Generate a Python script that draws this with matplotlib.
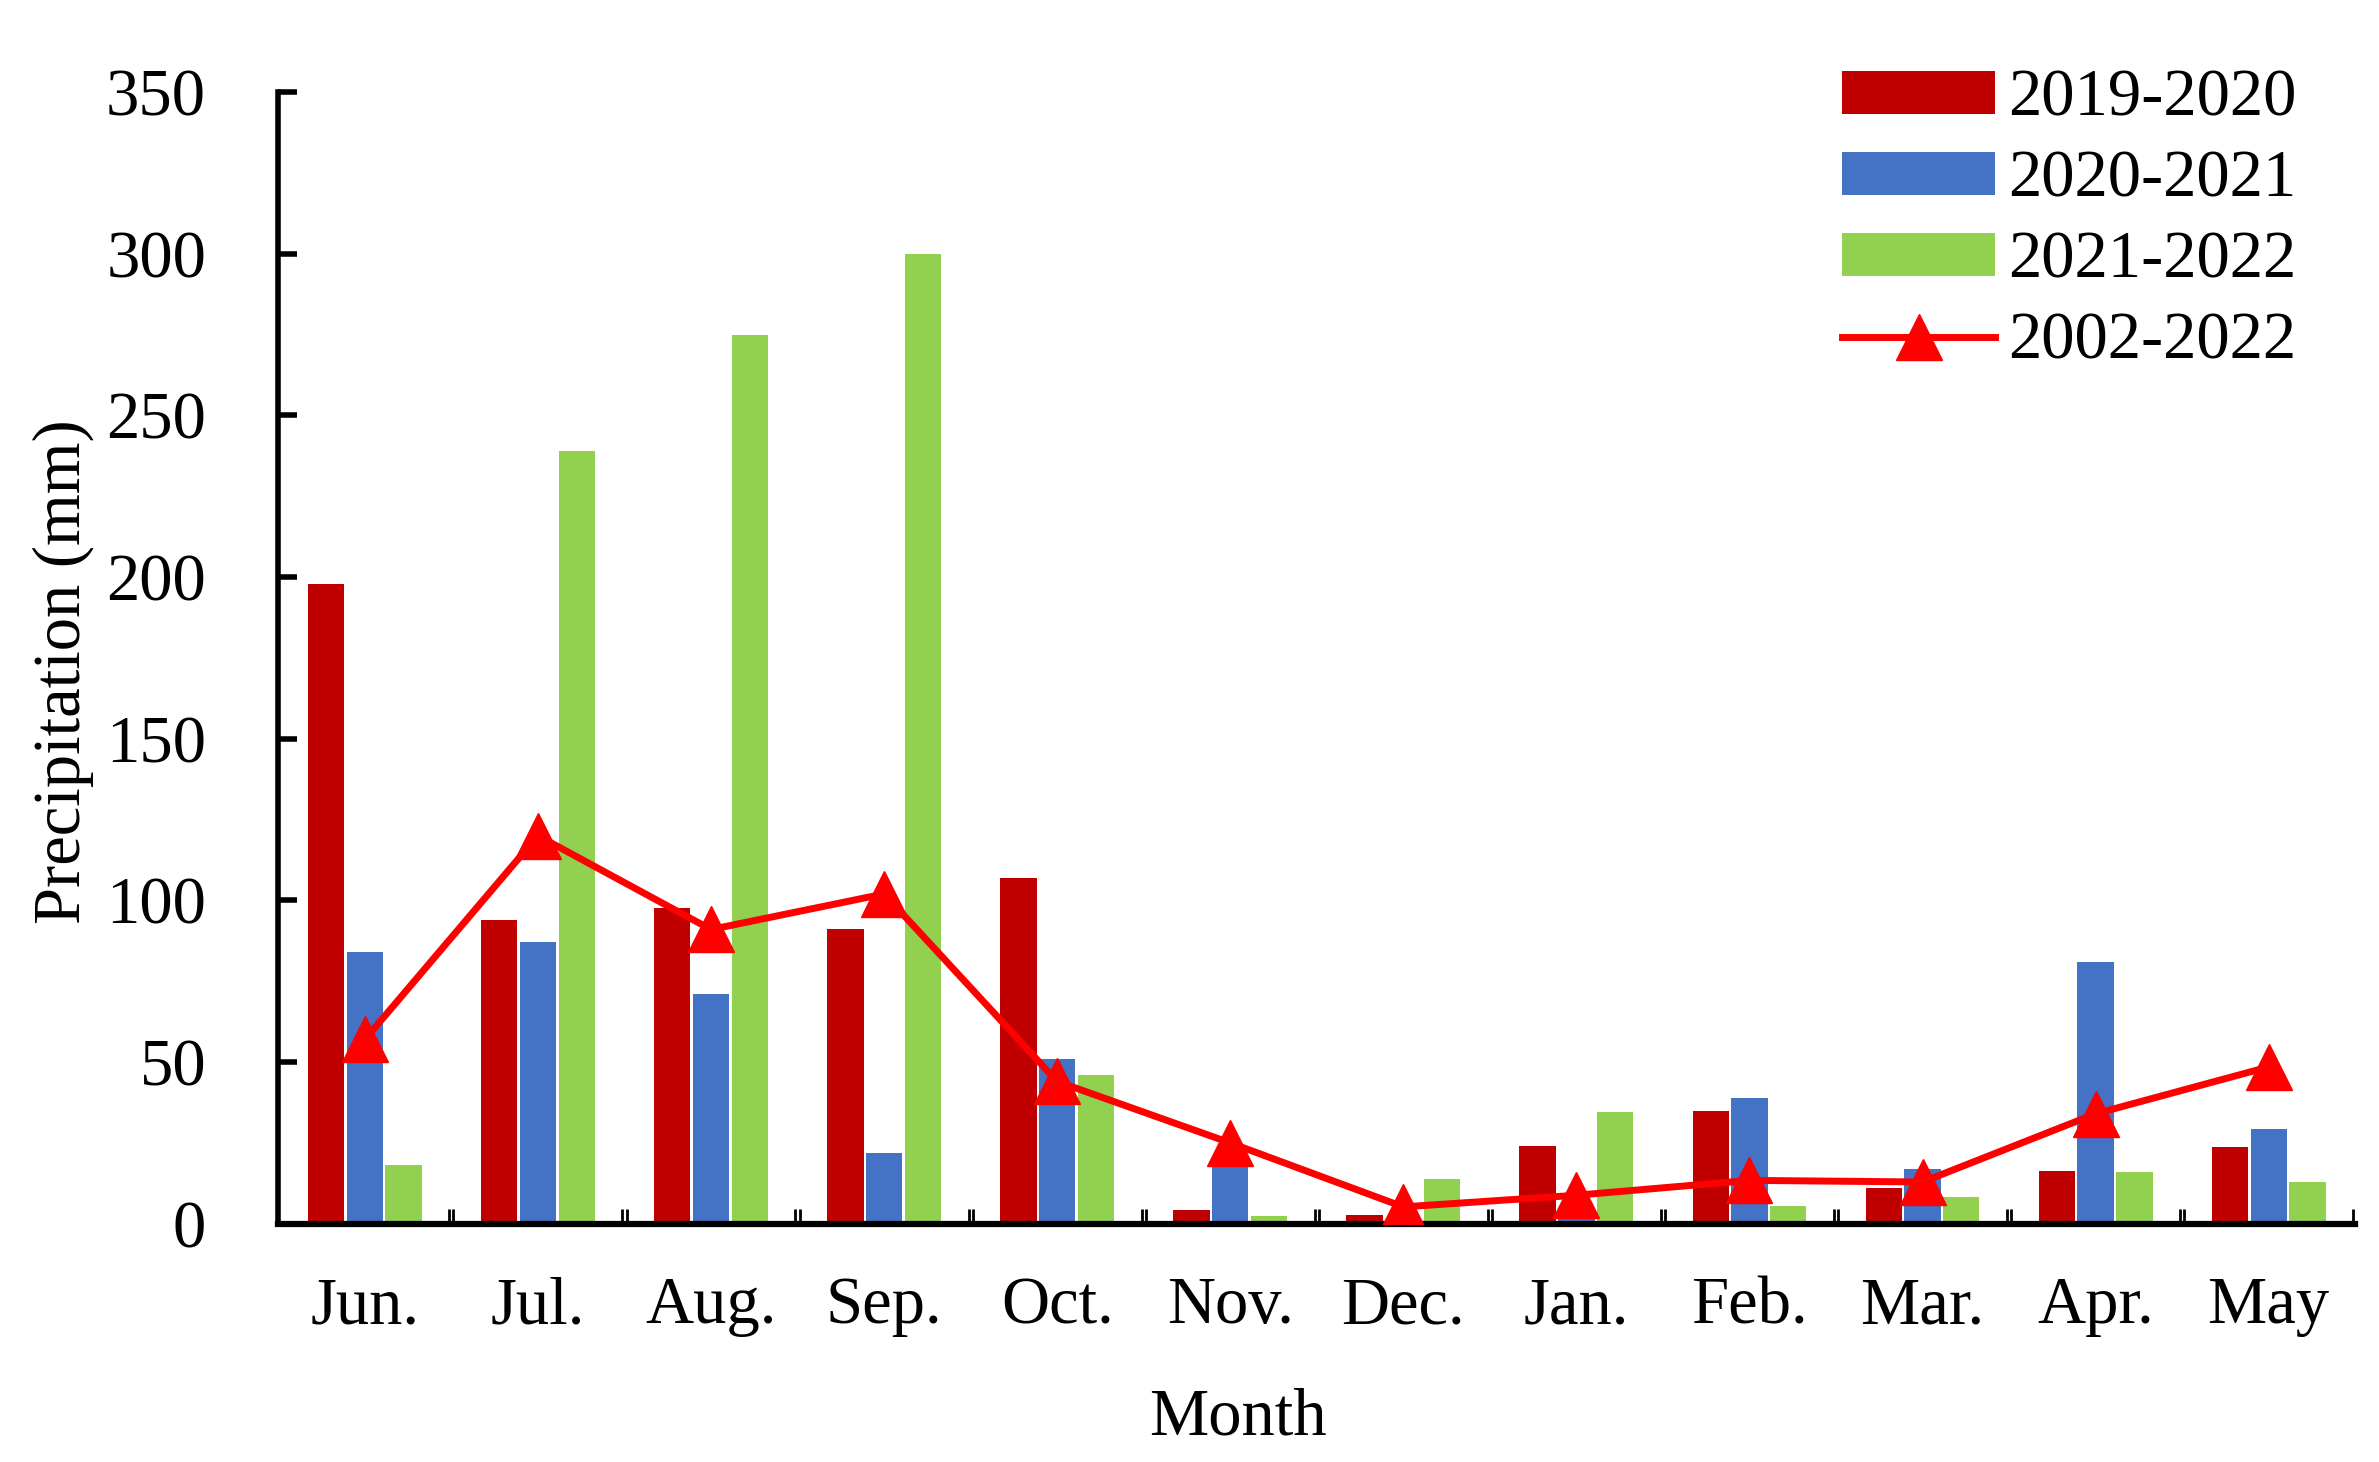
import numpy as np
import matplotlib
matplotlib.use("Agg")
from matplotlib import pyplot as plt

plt.rcParams['font.family'] = ['Liberation Serif', 'DejaVu Serif']

# data
months = ['Jun.', 'Jul.', 'Aug.', 'Sep.', 'Oct.', 'Nov.', 'Dec.', 'Jan.', 'Feb.', 'Mar.', 'Apr.', 'May']
p_2019_2020 = [198, 94, 97.5, 91, 107, 4.3, 2.8, 24, 34.8, 11, 16.2, 23.6]
p_2020_2021 = [84, 87, 71, 22, 51, 20, 1, 4, 39, 17, 81, 29.2]
p_2021_2022 = [18, 239, 275, 300, 46, 2.3, 13.7, 34.4, 5.4, 8.2, 15.9, 12.8]
p_2002_2022 = [57, 120, 91, 102, 44, 25, 5.2, 8.8, 13.4, 12.9, 34, 48.5]

x = np.arange(len(months))
w = 0.21
step = 0.224

fig = plt.figure(figsize=(23.79, 14.62), dpi=100)
ax = fig.add_axes([0.117, 0.163, 0.873, 0.774])

b1 = ax.bar(x - step, p_2019_2020, w, color='#C00000', label='2019-2020', zorder=2)
b2 = ax.bar(x, p_2020_2021, w, color='#4472C4', label='2020-2021', zorder=2)
b3 = ax.bar(x + step, p_2021_2022, w, color='#92D050', label='2021-2022', zorder=2)
ln, = ax.plot(x, p_2002_2022, color='#FF0000', lw=5, marker='^', markersize=33,
              label='2002-2022', zorder=3)

ax.set_xlim(-0.5, 11.5)
ax.set_ylim(0, 350)
ax.set_yticks(np.arange(0, 351, 50))
ax.set_xticks(x)
ax.set_xticklabels(months)

# double marks between the months
bounds = np.arange(0.5, 11.5, 1.0)
ax.set_xticks(np.concatenate([bounds - 0.012, bounds + 0.012, [11.5 - 0.012]]), minor=True)
ax.tick_params(axis='x', which='major', length=0, pad=38, labelsize=48)
ax.tick_params(axis='x', which='minor', direction='in', length=11, width=2)
ax.tick_params(axis='y', direction='in', length=14, width=4, pad=52, labelsize=48)

for s in ['top', 'right']:
    ax.spines[s].set_visible(False)
ax.spines['left'].set_linewidth(4)
ax.spines['bottom'].set_linewidth(4.5)

ax.set_xlabel('Month', fontsize=48)
ax.xaxis.set_label_coords(0.462, -0.145)
ax.set_ylabel('Precipitation (mm)', fontsize=48)
ax.yaxis.set_label_coords(-0.089, 0.488)

ax.legend([b1, b2, b3, ln], ['2019-2020', '2020-2021', '2021-2022', '2002-2022'],
          loc='upper right', bbox_to_anchor=(0.988, 1.05), fontsize=48, frameon=False,
          handlelength=2.3, handleheight=0.6, labelspacing=0.3, handletextpad=0.2,
          borderaxespad=0.1)

fig.savefig('out.png', dpi=100)
